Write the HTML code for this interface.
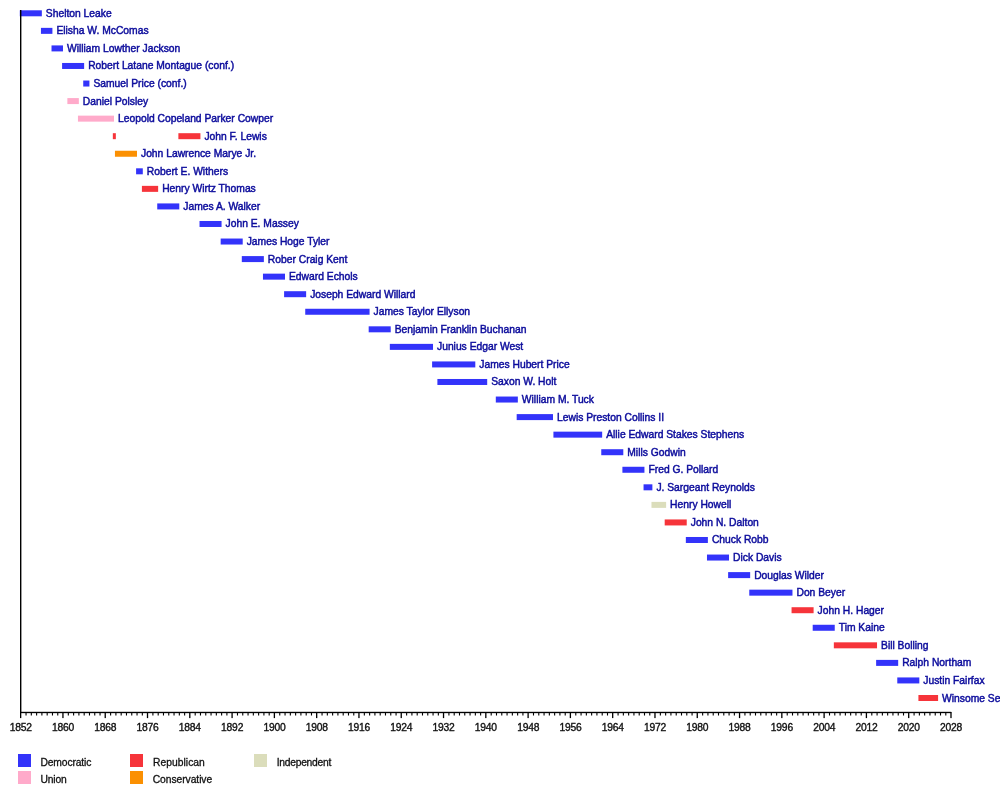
<!DOCTYPE html>
<html><head><meta charset="utf-8"><title>Lieutenant Governors of Virginia timeline</title>
<style>
html,body{margin:0;padding:0;background:#fff;}
body{width:1000px;height:792px;overflow:hidden;position:relative;}
svg{position:absolute;left:0;top:0;display:block;}
text{font-family:"Liberation Sans",Arial,Helvetica,sans-serif;font-size:10.3px;}
.n{fill:#0c0c9c;stroke:#0c0c9c;stroke-width:0.45px;}
.a{fill:#111;text-anchor:middle;stroke:#111;stroke-width:0.35px;letter-spacing:-0.22px;}
.l{fill:#111;stroke:#111;stroke-width:0.3px;}
</style></head><body>
<svg width="1000" height="792" viewBox="0 0 1000 792">
<rect width="1000" height="792" fill="#ffffff"/>

<rect x="19.80" y="10.30" width="22.04" height="6" fill="#3333fa"/>
<text class="n" x="45.84" y="16.80">Shelton Leake</text>
<rect x="40.94" y="27.86" width="11.47" height="6" fill="#3333fa"/>
<text class="n" x="56.42" y="34.36">Elisha W. McComas</text>
<rect x="51.52" y="45.41" width="11.47" height="6" fill="#3333fa"/>
<text class="n" x="66.99" y="51.91">William Lowther Jackson</text>
<rect x="62.09" y="62.97" width="22.04" height="6" fill="#3333fa"/>
<text class="n" x="88.13" y="69.47">Robert Latane Montague (conf.)</text>
<rect x="83.23" y="80.53" width="6.19" height="6" fill="#3333fa"/>
<text class="n" x="93.42" y="87.03">Samuel Price (conf.)</text>
<rect x="67.37" y="98.08" width="11.47" height="6" fill="#ffaaca"/>
<text class="n" x="82.85" y="104.58">Daniel Polsley</text>
<rect x="77.95" y="115.64" width="36.05" height="6" fill="#ffaaca"/>
<text class="n" x="118.00" y="122.14">Leopold Copeland Parker Cowper</text>
<rect x="112.83" y="133.19" width="3.01" height="6" fill="#f6343a"/>
<rect x="178.38" y="133.19" width="22.04" height="6" fill="#f6343a"/>
<text class="n" x="204.42" y="139.69">John F. Lewis</text>
<rect x="114.95" y="150.75" width="22.04" height="6" fill="#fb9002"/>
<text class="n" x="140.99" y="157.25">John Lawrence Marye Jr.</text>
<rect x="136.09" y="168.31" width="6.71" height="6" fill="#3333fa"/>
<text class="n" x="146.81" y="174.81">Robert E. Withers</text>
<rect x="141.91" y="185.86" width="16.23" height="6" fill="#f6343a"/>
<text class="n" x="162.14" y="192.36">Henry Wirtz Thomas</text>
<rect x="157.24" y="203.42" width="22.04" height="6" fill="#3333fa"/>
<text class="n" x="183.28" y="209.92">James A. Walker</text>
<rect x="199.52" y="220.98" width="22.04" height="6" fill="#3333fa"/>
<text class="n" x="225.57" y="227.48">John E. Massey</text>
<rect x="220.67" y="238.53" width="22.04" height="6" fill="#3333fa"/>
<text class="n" x="246.71" y="245.03">James Hoge Tyler</text>
<rect x="241.81" y="256.09" width="22.04" height="6" fill="#3333fa"/>
<text class="n" x="267.86" y="262.59">Rober Craig Kent</text>
<rect x="262.96" y="273.65" width="22.04" height="6" fill="#3333fa"/>
<text class="n" x="289.00" y="280.15">Edward Echols</text>
<rect x="284.10" y="291.20" width="22.04" height="6" fill="#3333fa"/>
<text class="n" x="310.14" y="297.70">Joseph Edward Willard</text>
<rect x="305.24" y="308.76" width="64.33" height="6" fill="#3333fa"/>
<text class="n" x="373.58" y="315.26">James Taylor Ellyson</text>
<rect x="368.68" y="326.32" width="22.04" height="6" fill="#3333fa"/>
<text class="n" x="394.72" y="332.82">Benjamin Franklin Buchanan</text>
<rect x="389.82" y="343.87" width="43.19" height="6" fill="#3333fa"/>
<text class="n" x="437.01" y="350.37">Junius Edgar West</text>
<rect x="432.11" y="361.43" width="43.19" height="6" fill="#3333fa"/>
<text class="n" x="479.30" y="367.93">James Hubert Price</text>
<rect x="437.39" y="378.98" width="49.80" height="6" fill="#3333fa"/>
<text class="n" x="491.19" y="385.48">Saxon W. Holt</text>
<rect x="495.80" y="396.54" width="22.04" height="6" fill="#3333fa"/>
<text class="n" x="521.85" y="403.04">William M. Tuck</text>
<rect x="516.68" y="414.10" width="36.32" height="6" fill="#3333fa"/>
<text class="n" x="557.00" y="420.60">Lewis Preston Collins II</text>
<rect x="553.42" y="431.65" width="48.74" height="6" fill="#3333fa"/>
<text class="n" x="606.16" y="438.15">Allie Edward Stakes Stephens</text>
<rect x="601.26" y="449.21" width="22.04" height="6" fill="#3333fa"/>
<text class="n" x="627.30" y="455.71">Mills Godwin</text>
<rect x="622.40" y="466.77" width="22.04" height="6" fill="#3333fa"/>
<text class="n" x="648.45" y="473.27">Fred G. Pollard</text>
<rect x="643.55" y="484.32" width="8.83" height="6" fill="#3333fa"/>
<text class="n" x="656.38" y="490.82">J. Sargeant Reynolds</text>
<rect x="651.48" y="501.88" width="14.64" height="6" fill="#dbddbb"/>
<text class="n" x="670.12" y="508.38">Henry Howell</text>
<rect x="664.69" y="519.44" width="22.04" height="6" fill="#f6343a"/>
<text class="n" x="690.74" y="525.94">John N. Dalton</text>
<rect x="685.84" y="536.99" width="22.04" height="6" fill="#3333fa"/>
<text class="n" x="711.88" y="543.49">Chuck Robb</text>
<rect x="706.98" y="554.55" width="22.04" height="6" fill="#3333fa"/>
<text class="n" x="733.02" y="561.05">Dick Davis</text>
<rect x="728.12" y="572.11" width="22.04" height="6" fill="#3333fa"/>
<text class="n" x="754.17" y="578.61">Douglas Wilder</text>
<rect x="749.27" y="589.66" width="43.19" height="6" fill="#3333fa"/>
<text class="n" x="796.46" y="596.16">Don Beyer</text>
<rect x="791.56" y="607.22" width="22.04" height="6" fill="#f6343a"/>
<text class="n" x="817.60" y="613.72">John H. Hager</text>
<rect x="812.70" y="624.77" width="22.04" height="6" fill="#3333fa"/>
<text class="n" x="838.74" y="631.27">Tim Kaine</text>
<rect x="833.84" y="642.33" width="43.19" height="6" fill="#f6343a"/>
<text class="n" x="881.03" y="648.83">Bill Bolling</text>
<rect x="876.13" y="659.89" width="22.04" height="6" fill="#3333fa"/>
<text class="n" x="902.18" y="666.39">Ralph Northam</text>
<rect x="897.28" y="677.44" width="22.04" height="6" fill="#3333fa"/>
<text class="n" x="923.32" y="683.94">Justin Fairfax</text>
<rect x="918.42" y="695.00" width="19.67" height="6" fill="#f6343a"/>
<text class="n" x="942.09" y="701.50">Winsome Sears</text>
<rect x="20" y="10" width="1.4" height="703" fill="#000"/>
<rect x="20" y="711.8" width="931.2" height="1.35" fill="#000"/>
<rect x="20.00" y="712" width="1.3" height="6.1" fill="#000"/>
<text class="a" x="20.70" y="731">1852</text>
<rect x="25.49" y="712" width="1.1" height="3.5" fill="#000"/>
<rect x="30.77" y="712" width="1.1" height="3.5" fill="#000"/>
<rect x="36.06" y="712" width="1.1" height="3.5" fill="#000"/>
<rect x="41.34" y="712" width="1.1" height="3.5" fill="#000"/>
<rect x="46.63" y="712" width="1.1" height="3.5" fill="#000"/>
<rect x="51.92" y="712" width="1.1" height="3.5" fill="#000"/>
<rect x="57.20" y="712" width="1.1" height="3.5" fill="#000"/>
<rect x="62.29" y="712" width="1.3" height="6.1" fill="#000"/>
<text class="a" x="62.99" y="731">1860</text>
<rect x="67.77" y="712" width="1.1" height="3.5" fill="#000"/>
<rect x="73.06" y="712" width="1.1" height="3.5" fill="#000"/>
<rect x="78.35" y="712" width="1.1" height="3.5" fill="#000"/>
<rect x="83.63" y="712" width="1.1" height="3.5" fill="#000"/>
<rect x="88.92" y="712" width="1.1" height="3.5" fill="#000"/>
<rect x="94.20" y="712" width="1.1" height="3.5" fill="#000"/>
<rect x="99.49" y="712" width="1.1" height="3.5" fill="#000"/>
<rect x="104.58" y="712" width="1.3" height="6.1" fill="#000"/>
<text class="a" x="105.28" y="731">1868</text>
<rect x="110.06" y="712" width="1.1" height="3.5" fill="#000"/>
<rect x="115.35" y="712" width="1.1" height="3.5" fill="#000"/>
<rect x="120.63" y="712" width="1.1" height="3.5" fill="#000"/>
<rect x="125.92" y="712" width="1.1" height="3.5" fill="#000"/>
<rect x="131.21" y="712" width="1.1" height="3.5" fill="#000"/>
<rect x="136.49" y="712" width="1.1" height="3.5" fill="#000"/>
<rect x="141.78" y="712" width="1.1" height="3.5" fill="#000"/>
<rect x="146.86" y="712" width="1.3" height="6.1" fill="#000"/>
<text class="a" x="147.56" y="731">1876</text>
<rect x="152.35" y="712" width="1.1" height="3.5" fill="#000"/>
<rect x="157.64" y="712" width="1.1" height="3.5" fill="#000"/>
<rect x="162.92" y="712" width="1.1" height="3.5" fill="#000"/>
<rect x="168.21" y="712" width="1.1" height="3.5" fill="#000"/>
<rect x="173.49" y="712" width="1.1" height="3.5" fill="#000"/>
<rect x="178.78" y="712" width="1.1" height="3.5" fill="#000"/>
<rect x="184.07" y="712" width="1.1" height="3.5" fill="#000"/>
<rect x="189.15" y="712" width="1.3" height="6.1" fill="#000"/>
<text class="a" x="189.85" y="731">1884</text>
<rect x="194.64" y="712" width="1.1" height="3.5" fill="#000"/>
<rect x="199.92" y="712" width="1.1" height="3.5" fill="#000"/>
<rect x="205.21" y="712" width="1.1" height="3.5" fill="#000"/>
<rect x="210.50" y="712" width="1.1" height="3.5" fill="#000"/>
<rect x="215.78" y="712" width="1.1" height="3.5" fill="#000"/>
<rect x="221.07" y="712" width="1.1" height="3.5" fill="#000"/>
<rect x="226.35" y="712" width="1.1" height="3.5" fill="#000"/>
<rect x="231.44" y="712" width="1.3" height="6.1" fill="#000"/>
<text class="a" x="232.14" y="731">1892</text>
<rect x="236.93" y="712" width="1.1" height="3.5" fill="#000"/>
<rect x="242.21" y="712" width="1.1" height="3.5" fill="#000"/>
<rect x="247.50" y="712" width="1.1" height="3.5" fill="#000"/>
<rect x="252.78" y="712" width="1.1" height="3.5" fill="#000"/>
<rect x="258.07" y="712" width="1.1" height="3.5" fill="#000"/>
<rect x="263.36" y="712" width="1.1" height="3.5" fill="#000"/>
<rect x="268.64" y="712" width="1.1" height="3.5" fill="#000"/>
<rect x="273.73" y="712" width="1.3" height="6.1" fill="#000"/>
<text class="a" x="274.43" y="731">1900</text>
<rect x="279.21" y="712" width="1.1" height="3.5" fill="#000"/>
<rect x="284.50" y="712" width="1.1" height="3.5" fill="#000"/>
<rect x="289.79" y="712" width="1.1" height="3.5" fill="#000"/>
<rect x="295.07" y="712" width="1.1" height="3.5" fill="#000"/>
<rect x="300.36" y="712" width="1.1" height="3.5" fill="#000"/>
<rect x="305.64" y="712" width="1.1" height="3.5" fill="#000"/>
<rect x="310.93" y="712" width="1.1" height="3.5" fill="#000"/>
<rect x="316.02" y="712" width="1.3" height="6.1" fill="#000"/>
<text class="a" x="316.72" y="731">1908</text>
<rect x="321.50" y="712" width="1.1" height="3.5" fill="#000"/>
<rect x="326.79" y="712" width="1.1" height="3.5" fill="#000"/>
<rect x="332.07" y="712" width="1.1" height="3.5" fill="#000"/>
<rect x="337.36" y="712" width="1.1" height="3.5" fill="#000"/>
<rect x="342.65" y="712" width="1.1" height="3.5" fill="#000"/>
<rect x="347.93" y="712" width="1.1" height="3.5" fill="#000"/>
<rect x="353.22" y="712" width="1.1" height="3.5" fill="#000"/>
<rect x="358.30" y="712" width="1.3" height="6.1" fill="#000"/>
<text class="a" x="359.00" y="731">1916</text>
<rect x="363.79" y="712" width="1.1" height="3.5" fill="#000"/>
<rect x="369.08" y="712" width="1.1" height="3.5" fill="#000"/>
<rect x="374.36" y="712" width="1.1" height="3.5" fill="#000"/>
<rect x="379.65" y="712" width="1.1" height="3.5" fill="#000"/>
<rect x="384.93" y="712" width="1.1" height="3.5" fill="#000"/>
<rect x="390.22" y="712" width="1.1" height="3.5" fill="#000"/>
<rect x="395.51" y="712" width="1.1" height="3.5" fill="#000"/>
<rect x="400.59" y="712" width="1.3" height="6.1" fill="#000"/>
<text class="a" x="401.29" y="731">1924</text>
<rect x="406.08" y="712" width="1.1" height="3.5" fill="#000"/>
<rect x="411.36" y="712" width="1.1" height="3.5" fill="#000"/>
<rect x="416.65" y="712" width="1.1" height="3.5" fill="#000"/>
<rect x="421.94" y="712" width="1.1" height="3.5" fill="#000"/>
<rect x="427.22" y="712" width="1.1" height="3.5" fill="#000"/>
<rect x="432.51" y="712" width="1.1" height="3.5" fill="#000"/>
<rect x="437.79" y="712" width="1.1" height="3.5" fill="#000"/>
<rect x="442.88" y="712" width="1.3" height="6.1" fill="#000"/>
<text class="a" x="443.58" y="731">1932</text>
<rect x="448.37" y="712" width="1.1" height="3.5" fill="#000"/>
<rect x="453.65" y="712" width="1.1" height="3.5" fill="#000"/>
<rect x="458.94" y="712" width="1.1" height="3.5" fill="#000"/>
<rect x="464.22" y="712" width="1.1" height="3.5" fill="#000"/>
<rect x="469.51" y="712" width="1.1" height="3.5" fill="#000"/>
<rect x="474.80" y="712" width="1.1" height="3.5" fill="#000"/>
<rect x="480.08" y="712" width="1.1" height="3.5" fill="#000"/>
<rect x="485.17" y="712" width="1.3" height="6.1" fill="#000"/>
<text class="a" x="485.87" y="731">1940</text>
<rect x="490.65" y="712" width="1.1" height="3.5" fill="#000"/>
<rect x="495.94" y="712" width="1.1" height="3.5" fill="#000"/>
<rect x="501.23" y="712" width="1.1" height="3.5" fill="#000"/>
<rect x="506.51" y="712" width="1.1" height="3.5" fill="#000"/>
<rect x="511.80" y="712" width="1.1" height="3.5" fill="#000"/>
<rect x="517.08" y="712" width="1.1" height="3.5" fill="#000"/>
<rect x="522.37" y="712" width="1.1" height="3.5" fill="#000"/>
<rect x="527.46" y="712" width="1.3" height="6.1" fill="#000"/>
<text class="a" x="528.16" y="731">1948</text>
<rect x="532.94" y="712" width="1.1" height="3.5" fill="#000"/>
<rect x="538.23" y="712" width="1.1" height="3.5" fill="#000"/>
<rect x="543.51" y="712" width="1.1" height="3.5" fill="#000"/>
<rect x="548.80" y="712" width="1.1" height="3.5" fill="#000"/>
<rect x="554.09" y="712" width="1.1" height="3.5" fill="#000"/>
<rect x="559.37" y="712" width="1.1" height="3.5" fill="#000"/>
<rect x="564.66" y="712" width="1.1" height="3.5" fill="#000"/>
<rect x="569.74" y="712" width="1.3" height="6.1" fill="#000"/>
<text class="a" x="570.44" y="731">1956</text>
<rect x="575.23" y="712" width="1.1" height="3.5" fill="#000"/>
<rect x="580.52" y="712" width="1.1" height="3.5" fill="#000"/>
<rect x="585.80" y="712" width="1.1" height="3.5" fill="#000"/>
<rect x="591.09" y="712" width="1.1" height="3.5" fill="#000"/>
<rect x="596.37" y="712" width="1.1" height="3.5" fill="#000"/>
<rect x="601.66" y="712" width="1.1" height="3.5" fill="#000"/>
<rect x="606.95" y="712" width="1.1" height="3.5" fill="#000"/>
<rect x="612.03" y="712" width="1.3" height="6.1" fill="#000"/>
<text class="a" x="612.73" y="731">1964</text>
<rect x="617.52" y="712" width="1.1" height="3.5" fill="#000"/>
<rect x="622.80" y="712" width="1.1" height="3.5" fill="#000"/>
<rect x="628.09" y="712" width="1.1" height="3.5" fill="#000"/>
<rect x="633.38" y="712" width="1.1" height="3.5" fill="#000"/>
<rect x="638.66" y="712" width="1.1" height="3.5" fill="#000"/>
<rect x="643.95" y="712" width="1.1" height="3.5" fill="#000"/>
<rect x="649.23" y="712" width="1.1" height="3.5" fill="#000"/>
<rect x="654.32" y="712" width="1.3" height="6.1" fill="#000"/>
<text class="a" x="655.02" y="731">1972</text>
<rect x="659.81" y="712" width="1.1" height="3.5" fill="#000"/>
<rect x="665.09" y="712" width="1.1" height="3.5" fill="#000"/>
<rect x="670.38" y="712" width="1.1" height="3.5" fill="#000"/>
<rect x="675.66" y="712" width="1.1" height="3.5" fill="#000"/>
<rect x="680.95" y="712" width="1.1" height="3.5" fill="#000"/>
<rect x="686.24" y="712" width="1.1" height="3.5" fill="#000"/>
<rect x="691.52" y="712" width="1.1" height="3.5" fill="#000"/>
<rect x="696.61" y="712" width="1.3" height="6.1" fill="#000"/>
<text class="a" x="697.31" y="731">1980</text>
<rect x="702.09" y="712" width="1.1" height="3.5" fill="#000"/>
<rect x="707.38" y="712" width="1.1" height="3.5" fill="#000"/>
<rect x="712.67" y="712" width="1.1" height="3.5" fill="#000"/>
<rect x="717.95" y="712" width="1.1" height="3.5" fill="#000"/>
<rect x="723.24" y="712" width="1.1" height="3.5" fill="#000"/>
<rect x="728.52" y="712" width="1.1" height="3.5" fill="#000"/>
<rect x="733.81" y="712" width="1.1" height="3.5" fill="#000"/>
<rect x="738.90" y="712" width="1.3" height="6.1" fill="#000"/>
<text class="a" x="739.60" y="731">1988</text>
<rect x="744.38" y="712" width="1.1" height="3.5" fill="#000"/>
<rect x="749.67" y="712" width="1.1" height="3.5" fill="#000"/>
<rect x="754.95" y="712" width="1.1" height="3.5" fill="#000"/>
<rect x="760.24" y="712" width="1.1" height="3.5" fill="#000"/>
<rect x="765.53" y="712" width="1.1" height="3.5" fill="#000"/>
<rect x="770.81" y="712" width="1.1" height="3.5" fill="#000"/>
<rect x="776.10" y="712" width="1.1" height="3.5" fill="#000"/>
<rect x="781.18" y="712" width="1.3" height="6.1" fill="#000"/>
<text class="a" x="781.88" y="731">1996</text>
<rect x="786.67" y="712" width="1.1" height="3.5" fill="#000"/>
<rect x="791.96" y="712" width="1.1" height="3.5" fill="#000"/>
<rect x="797.24" y="712" width="1.1" height="3.5" fill="#000"/>
<rect x="802.53" y="712" width="1.1" height="3.5" fill="#000"/>
<rect x="807.81" y="712" width="1.1" height="3.5" fill="#000"/>
<rect x="813.10" y="712" width="1.1" height="3.5" fill="#000"/>
<rect x="818.39" y="712" width="1.1" height="3.5" fill="#000"/>
<rect x="823.47" y="712" width="1.3" height="6.1" fill="#000"/>
<text class="a" x="824.17" y="731">2004</text>
<rect x="828.96" y="712" width="1.1" height="3.5" fill="#000"/>
<rect x="834.24" y="712" width="1.1" height="3.5" fill="#000"/>
<rect x="839.53" y="712" width="1.1" height="3.5" fill="#000"/>
<rect x="844.82" y="712" width="1.1" height="3.5" fill="#000"/>
<rect x="850.10" y="712" width="1.1" height="3.5" fill="#000"/>
<rect x="855.39" y="712" width="1.1" height="3.5" fill="#000"/>
<rect x="860.67" y="712" width="1.1" height="3.5" fill="#000"/>
<rect x="865.76" y="712" width="1.3" height="6.1" fill="#000"/>
<text class="a" x="866.46" y="731">2012</text>
<rect x="871.25" y="712" width="1.1" height="3.5" fill="#000"/>
<rect x="876.53" y="712" width="1.1" height="3.5" fill="#000"/>
<rect x="881.82" y="712" width="1.1" height="3.5" fill="#000"/>
<rect x="887.10" y="712" width="1.1" height="3.5" fill="#000"/>
<rect x="892.39" y="712" width="1.1" height="3.5" fill="#000"/>
<rect x="897.68" y="712" width="1.1" height="3.5" fill="#000"/>
<rect x="902.96" y="712" width="1.1" height="3.5" fill="#000"/>
<rect x="908.05" y="712" width="1.3" height="6.1" fill="#000"/>
<text class="a" x="908.75" y="731">2020</text>
<rect x="913.53" y="712" width="1.1" height="3.5" fill="#000"/>
<rect x="918.82" y="712" width="1.1" height="3.5" fill="#000"/>
<rect x="924.11" y="712" width="1.1" height="3.5" fill="#000"/>
<rect x="929.39" y="712" width="1.1" height="3.5" fill="#000"/>
<rect x="934.68" y="712" width="1.1" height="3.5" fill="#000"/>
<rect x="939.96" y="712" width="1.1" height="3.5" fill="#000"/>
<rect x="945.25" y="712" width="1.1" height="3.5" fill="#000"/>
<rect x="950.34" y="712" width="1.3" height="6.1" fill="#000"/>
<text class="a" x="951.04" y="731">2028</text>
<rect x="18" y="754" width="13" height="13" fill="#3333fa"/>
<text class="l" x="40.5" y="766" textLength="50.8" lengthAdjust="spacing">Democratic</text>
<rect x="18" y="771" width="13" height="13" fill="#ffaaca"/>
<text class="l" x="40.5" y="783" textLength="26.3" lengthAdjust="spacing">Union</text>
<rect x="130" y="754" width="13" height="13" fill="#f6343a"/>
<text class="l" x="153.0" y="766" textLength="51.8" lengthAdjust="spacing">Republican</text>
<rect x="130" y="771" width="13" height="13" fill="#fb9002"/>
<text class="l" x="152.7" y="783" textLength="59.5" lengthAdjust="spacing">Conservative</text>
<rect x="254" y="754" width="13" height="13" fill="#dbddbb"/>
<text class="l" x="276.7" y="766" textLength="54.6" lengthAdjust="spacing">Independent</text>
</svg></body></html>
